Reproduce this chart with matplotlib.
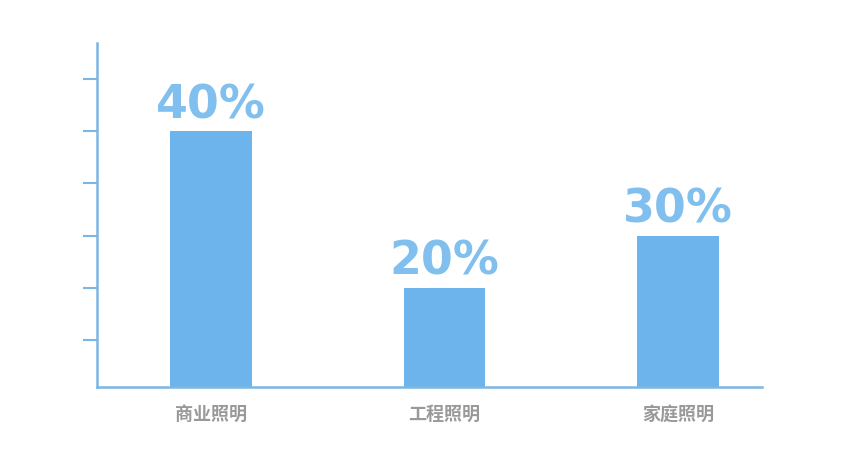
import matplotlib.pyplot as plt

plt.rcParams['font.family'] = ['Noto Sans CJK SC', 'DejaVu Sans']

categories = ['商业照明', '工程照明', '家庭照明']
# bar heights as drawn, in axis tick units
heights = [5, 2, 3]
labels = ['40%', '20%', '30%']
yticks = [1, 2, 3, 4, 5, 6]

bar_color = '#6db4ec'
text_color = '#80bfee'
axis_color = '#7ab7e4'

fig = plt.figure(figsize=(8.6, 4.59), dpi=100)
ax = fig.add_axes([0.1128, 0.157, 0.773, 0.749])

x = range(len(categories))
bars = ax.bar(x, heights, width=0.35, color=bar_color, zorder=2)

for rect, lab in zip(bars, labels):
    ax.text(rect.get_x() + rect.get_width() / 2, rect.get_height() + 0.06, lab,
            ha='center', va='bottom', fontsize=33, fontweight='bold',
            color=text_color, family='DejaVu Sans')

ax.set_xlim(-0.49, 2.36)
ax.set_ylim(0.1, 6.69)
ax.set_yticks(yticks)
ax.set_yticklabels([])
ax.set_xticks(list(x))
ax.set_xticklabels(categories, fontsize=13, fontweight='bold', color='#999999')
ax.tick_params(axis='x', length=0, pad=13)
ax.tick_params(axis='y', length=10, width=1.5, color=axis_color, direction='out')

for side in ['top', 'right']:
    ax.spines[side].set_visible(False)
for side in ['left', 'bottom']:
    ax.spines[side].set_color(axis_color)
    ax.spines[side].set_linewidth(1.8)

fig.savefig('out.png', dpi=100)
